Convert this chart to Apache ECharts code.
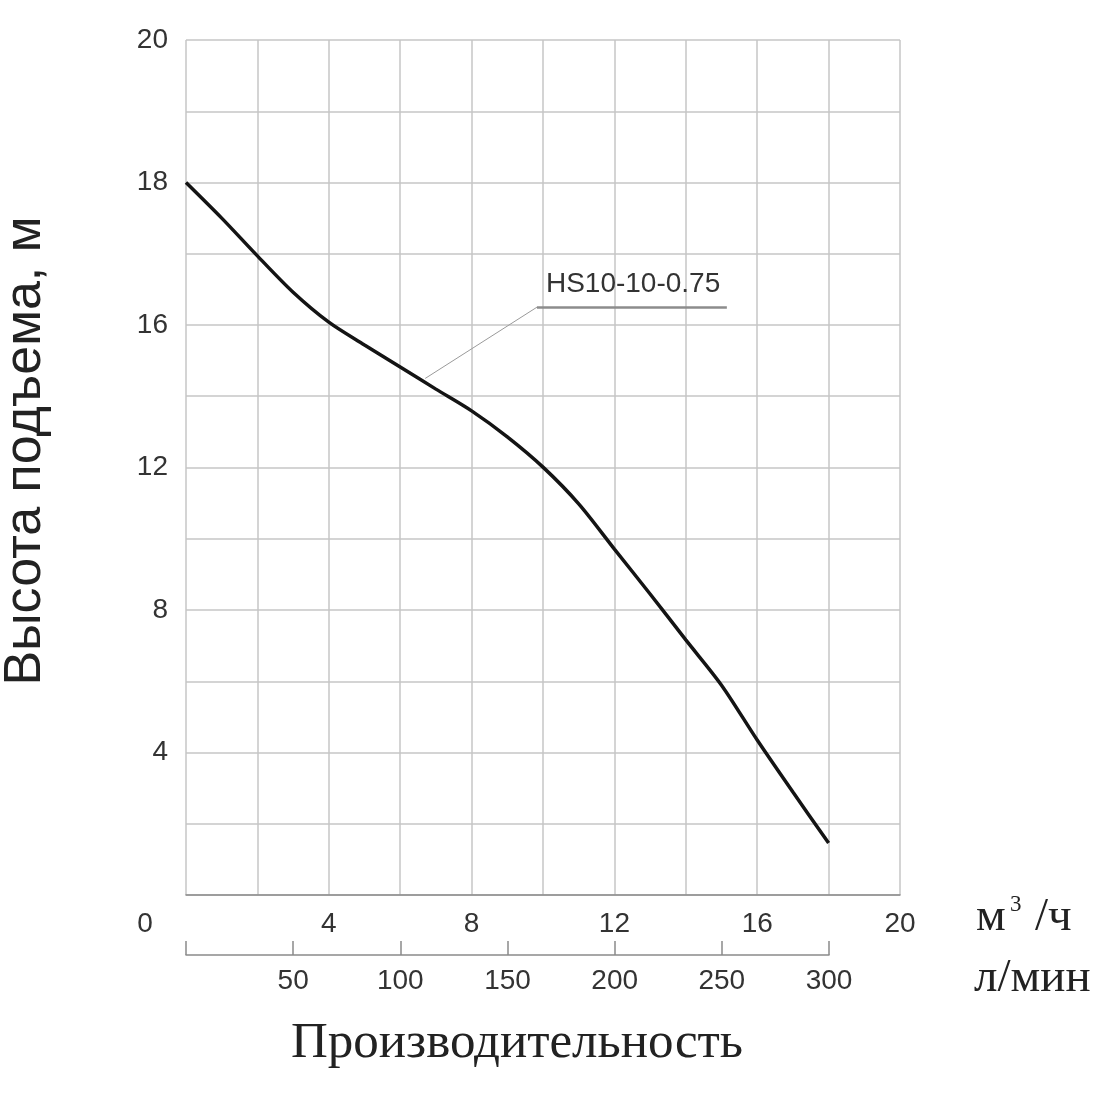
<!DOCTYPE html>
<html>
<head>
<meta charset="utf-8">
<title>HS10-10-0.75</title>
<script src="https://cdn.jsdelivr.net/npm/echarts@6/dist/echarts.min.js"></script>
<style>
  html, body { margin: 0; padding: 0; background: #fff; }
  #chart { width: 1100px; height: 1100px; }
</style>
</head>
<body>
<div id="chart"></div>
<script>
// расход, м3/ч и напор, м
var flowM3h = [0, 1, 2, 3, 4, 5, 6, 7, 8, 9, 10, 11, 12, 13, 14, 15, 16, 17, 18];
var headM = [18, 17.5, 16.97, 16.46, 16.04, 15.44, 14.82, 14.2, 13.59, 12.86, 12.01, 10.98, 9.71, 8.45, 7.16, 5.89, 4.35, 2.89, 1.46];

// подписи шкалы напора (шкала на графике неравномерная: выше 16 шаг 1 м на клетку)
var headTicks = { 4: '4', 8: '8', 12: '12', 16: '16', 20: '18', 24: '20' };
var flowTicks = [4, 8, 12, 16, 20];
var lminTicks = [50, 100, 150, 200, 250, 300];

var seriesName = 'HS10-10-0.75';

// напор в метрах -> позиция на оси
function toAxis(h) {
	return h <= 16 ? h : 16 + (h - 16) * 2;
}

var lineData = flowM3h.map(function (q, i) {
	return [q, toAxis(headM[i])];
});

var chart = echarts.init(document.getElementById('chart'));
var textColor = '#333';
var gridColor = '#c6c6c6';

var option = {
	animation: false,
	grid: [{
		left: 186, top: 40, width: 714, height: 855
	}, {
		left: 186, top: 900, width: 643, height: 55
	}],
	xAxis: [{
		gridIndex: 0,
		type: 'value',
		min: 0, max: 20, interval: 2,
		axisLine: { show: true, lineStyle: { color: '#8a8a8a', width: 1.5 } },
		axisTick: { show: false },
		splitLine: { show: true, lineStyle: { color: gridColor, width: 1.5 } },
		axisLabel: {
			margin: 15,
			color: textColor,
			fontSize: 28,
			fontFamily: 'Liberation Sans',
			formatter: function (v) {
				return flowTicks.indexOf(v) >= 0 ? String(v) : '';
			}
		}
	}, {
		gridIndex: 1,
		type: 'value',
		min: 0, max: 300, interval: 50,
		axisLine: { show: true, lineStyle: { color: '#8a8a8a', width: 1.5 } },
		axisTick: { show: true, inside: true, length: 14, lineStyle: { color: '#8a8a8a', width: 1.5 } },
		splitLine: { show: false },
		axisLabel: {
			margin: 12,
			color: textColor,
			fontSize: 28,
			fontFamily: 'Liberation Sans',
			formatter: function (v) {
				return lminTicks.indexOf(v) >= 0 ? String(v) : '';
			}
		}
	}],
	yAxis: [{
		gridIndex: 0,
		type: 'value',
		min: 0, max: 24, interval: 2,
		axisLine: { show: false },
		axisTick: { show: false },
		splitLine: { show: true, lineStyle: { color: gridColor, width: 1.5 } },
		axisLabel: {
			margin: 18,
			color: textColor,
			fontSize: 28,
			fontFamily: 'Liberation Sans',
			formatter: function (v) {
				return headTicks[v] || '';
			}
		}
	}, {
		gridIndex: 1,
		type: 'value',
		show: false
	}],
	series: [{
		name: seriesName,
		type: 'line',
		xAxisIndex: 0,
		yAxisIndex: 0,
		data: lineData,
		smooth: 0.3,
		symbol: 'none',
		lineStyle: { color: '#141414', width: 3.5 },
		markLine: {
			silent: true,
			symbol: ['none', 'none'],
			label: { show: false },
			data: [
				[{ coord: [6.7, toAxis(14.5)], lineStyle: { color: '#9a9a9a', width: 1, type: 'solid' } },
				 { coord: [9.83, toAxis(16.25)] }],
				[{ coord: [9.83, toAxis(16.25)], lineStyle: { color: '#8c8c8c', width: 2.5, type: 'solid' } },
				 { coord: [15.15, toAxis(16.25)] }]
			]
		}
	}]
};
chart.setOption(option);

// подписи и заголовки
var labelPos = chart.convertToPixel({ xAxisIndex: 0, yAxisIndex: 0 }, [9.83, toAxis(16.25)]);
var serif = 'Liberation Serif';
chart.setOption({
	graphic: [{
		type: 'text',
		left: labelPos[0] + 9, top: labelPos[1] - 37,
		style: { text: seriesName, fill: '#333', font: '28px "Liberation Sans"' }
	}, {
		type: 'text',
		x: 145, y: 924,
		style: { text: '0', fill: textColor, font: '28px "Liberation Sans"', align: 'center', verticalAlign: 'middle' }
	}, {
		type: 'text',
		x: 26, y: 451,
		rotation: Math.PI / 2,
		style: { text: 'Высота подъема, м', fill: '#222', font: '52px "Liberation Sans"', align: 'center', verticalAlign: 'middle' }
	}, {
		type: 'text',
		x: 517, y: 1044,
		style: { text: 'Производительность', fill: '#222', font: '51px "' + serif + '"', align: 'center', verticalAlign: 'middle' }
	}, {
		type: 'text',
		x: 976, y: 918,
		style: { text: 'м', fill: '#222', font: '47px "' + serif + '"', align: 'left', verticalAlign: 'middle' }
	}, {
		type: 'text',
		x: 1010, y: 905,
		style: { text: '3', fill: '#222', font: '23px "' + serif + '"', align: 'left', verticalAlign: 'middle' }
	}, {
		type: 'text',
		x: 1035, y: 918,
		style: { text: '/ч', fill: '#222', font: '47px "' + serif + '"', align: 'left', verticalAlign: 'middle' }
	}, {
		type: 'text',
		x: 974, y: 979,
		style: { text: 'л/мин', fill: '#222', font: '47px "' + serif + '"', align: 'left', verticalAlign: 'middle' }
	}]
});
</script>
</body>
</html>
